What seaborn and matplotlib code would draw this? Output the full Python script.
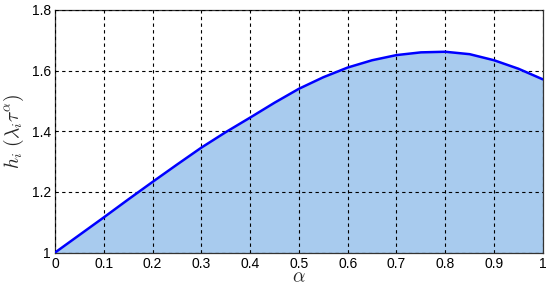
import matplotlib
matplotlib.use("Agg")
import matplotlib.pyplot as plt
import seaborn as sns
import pandas as pd
import numpy as np

alpha = [0.0, 0.05, 0.1, 0.15, 0.2, 0.25, 0.3, 0.35, 0.4, 0.45, 0.5,
         0.55, 0.6, 0.65, 0.7, 0.75, 0.8, 0.85, 0.9, 0.95, 1.0]
h_vals = [1.0, 1.058, 1.116, 1.175, 1.233, 1.290, 1.346, 1.397, 1.445, 1.494, 1.540,
          1.578, 1.610, 1.634, 1.651, 1.660, 1.662, 1.654, 1.634, 1.606, 1.571]
x_ticks = [0, 0.1, 0.2, 0.3, 0.4, 0.5, 0.6, 0.7, 0.8, 0.9, 1]
x_tick_labels = ["0", "0.1", "0.2", "0.3", "0.4", "0.5", "0.6", "0.7", "0.8", "0.9", "1"]
y_ticks = [1.0, 1.2, 1.4, 1.6, 1.8]
y_tick_labels = ["1", "1.2", "1.4", "1.6", "1.8"]

df = pd.DataFrame({"alpha": alpha, "h": h_vals})

sns.set_style("white")
plt.rcParams['font.family'] = ['Liberation Sans', 'DejaVu Sans']
plt.rcParams['mathtext.fontset'] = 'cm'

fig = plt.figure(figsize=(5.5, 2.91), dpi=100)
ax = fig.add_axes([0.1, 0.132, 0.887, 0.834])

ax.fill_between(df["alpha"], 1.0, df["h"], color="#A8CBEE", linewidth=0, zorder=1)
sns.lineplot(data=df, x="alpha", y="h", ax=ax, color="#0000FF", linewidth=1.8, zorder=3)

ax.set_xlim(0, 1)
ax.set_ylim(1.0, 1.8)
ax.set_xticks(x_ticks)
ax.set_xticklabels(x_tick_labels)
ax.set_yticks(y_ticks)
ax.set_yticklabels(y_tick_labels)
ax.tick_params(direction="in", length=4, labelsize=10, colors="black", pad=3)
ax.grid(True, color="black", linestyle=(0, (3, 3)), linewidth=0.8, zorder=2)
ax.set_axisbelow(False)
for s in ax.spines.values():
    s.set_color("#333333")
    s.set_linewidth(0.9)

ax.set_xlabel(r"$\alpha$", fontsize=14, labelpad=-1)
ax.set_ylabel(r"$h_i\ (\lambda_i\tau^{\alpha})$", fontsize=14, labelpad=4)

fig.savefig("out.png", dpi=100)
